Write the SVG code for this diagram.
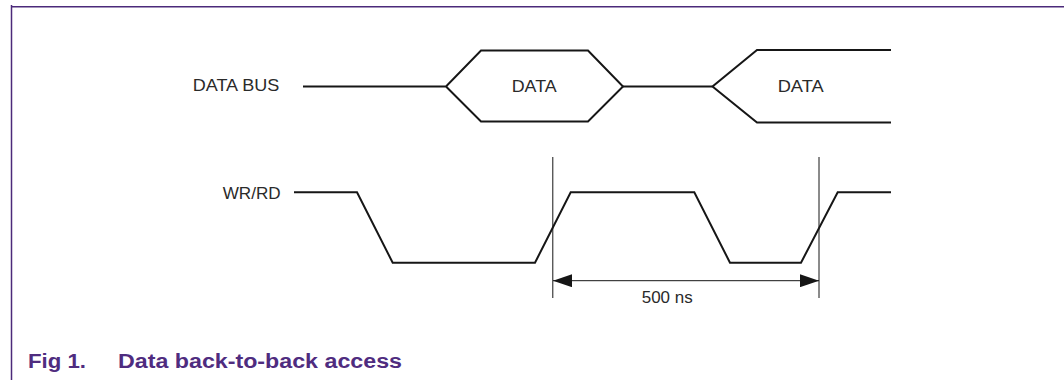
<svg xmlns="http://www.w3.org/2000/svg" width="1064" height="380" viewBox="0 0 1064 380">
  <defs>
    <style>
      .frame { stroke: #4b2a7a; stroke-width: 1.5; fill: none; }
      .sig { stroke: #161616; stroke-width: 2; fill: none; stroke-linejoin: miter; }
      .thin { stroke: #161616; stroke-width: 1; fill: none; }
      .lbl { font-family: "Liberation Sans", Arial, sans-serif; font-size: 16.5px; fill: #2a2a2a; }
      .cap { font-family: "Liberation Sans", Arial, sans-serif; font-size: 19.5px; font-weight: bold; fill: #4f2c7f; }
    </style>
    <marker id="arr" viewBox="0 0 19 13" refX="19" refY="6.5" markerWidth="19" markerHeight="13" markerUnits="userSpaceOnUse" orient="auto-start-reverse">
      <path d="M0,0 L19,6.5 L0,13 Z" fill="#161616"/>
    </marker>
  </defs>

  <rect width="1064" height="380" fill="#ffffff"/>

  <!-- figure frame -->
  <g id="frame">
    <path class="frame" d="M11.5,5 V380 M11,6.8 H1064"/>
  </g>

  <!-- data bus signal -->
  <g id="data-bus">
    <text class="lbl" x="192.7" y="91" textLength="86.6" lengthAdjust="spacingAndGlyphs">DATA BUS</text>
    <path class="sig" d="M303,86.5 H446 L481,50.5 H588 L623,86.5 L588,121.5 H481 L446,86.5"/>
    <path class="sig" d="M623,86.5 H712.5"/>
    <path class="sig" d="M891,50 H757 L712.5,86.5 L757,122.5 H891"/>
    <text class="lbl" x="511.7" y="92" textLength="45" lengthAdjust="spacingAndGlyphs">DATA</text>
    <text class="lbl" x="777.7" y="92" textLength="46" lengthAdjust="spacingAndGlyphs">DATA</text>
  </g>

  <!-- write/read strobe -->
  <g id="wr-rd">
    <text class="lbl" x="222.7" y="199" textLength="58" lengthAdjust="spacingAndGlyphs">WR/RD</text>
    <path class="sig" d="M294,192.3 H357 L392.7,262.7 H535 L570.7,192.3 H694.3 L730,262.7 H801 L837.7,192.3 H891"/>
  </g>

  <!-- cycle time dimension -->
  <g id="connectors">
    <path class="thin" d="M552.8,157 V298 M819,157 V298"/>
    <path class="thin" d="M553,280.7 H819" marker-start="url(#arr)" marker-end="url(#arr)"/>
    <text class="lbl" x="641.7" y="303" textLength="51" lengthAdjust="spacingAndGlyphs">500 ns</text>
  </g>

  <!-- caption -->
  <g id="caption">
    <text class="cap" x="28" y="368" textLength="58" lengthAdjust="spacingAndGlyphs">Fig 1.</text>
    <text class="cap" x="118" y="368" textLength="284" lengthAdjust="spacingAndGlyphs">Data back-to-back access</text>
  </g>
</svg>
